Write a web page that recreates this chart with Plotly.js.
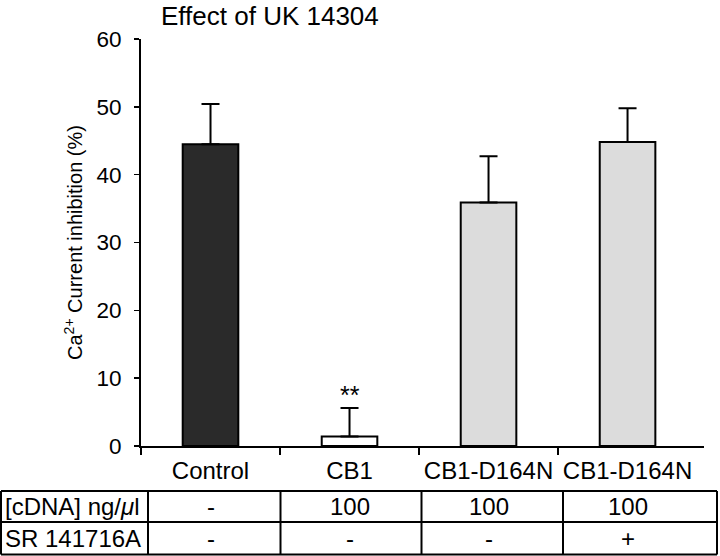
<!DOCTYPE html>
<html>
<head>
<meta charset="utf-8">
<script src="https://cdn.plot.ly/plotly-3.0.1.min.js"></script>
<style>html,body{margin:0;padding:0;background:#fff;}#chart{width:720px;height:556px;}</style>
</head>
<body>
<div id="chart"></div>
<script>
// ---- data ----
const categories = ["Control", "CB1", "CB1-D164N", "CB1-D164N"];
const inhibition = [44.5, 1.4, 35.9, 44.8];
const errorUp = [5.9, 4.2, 6.8, 5.0];
const barColors = ["#2a2a2a", "#ffffff", "#dcdcdc", "#dcdcdc"];
const significance = ["", "**", "", ""];
const yTicks = [0, 10, 20, 30, 40, 50, 60];
const rowLabels = ["[cDNA] ng/<i>μ</i>l", "SR 141716A"];
const cdnaRow = ["-", "100", "100", "100"];
const srRow = ["-", "-", "-", "+"];
const titleText = "Effect of UK 14304";
const yTitle = "Ca<sup>2+</sup> Current inhibition (%)";

const FONT = "Liberation Sans, Arial, Helvetica, sans-serif";
const idx = categories.map((_, i) => i);

const trace = {
  type: "bar",
  x: idx,
  y: inhibition,
  width: 0.4,
  marker: { color: barColors, line: { color: "#000", width: 2 } },
  error_y: { type: "data", symmetric: false, array: errorUp, arrayminus: errorUp.map(() => 0),
             color: "#000", thickness: 2, width: 9 },
  hoverinfo: "none",
  showlegend: false
};

// table geometry (paper coords)
const W = 720, H = 556, L = 141, R = 16, T = 39, B = 110;
const pw = W - L - R, ph = H - T - B;
const px = p => (p - L) / pw;
const py = p => (H - B - p) / ph;

const tableTop = py(491), tableMid = py(522), tableBot = py(554.5);
const tableLeft = px(1), tableRight = px(717);
const colDiv = [px(148), px(280.5), px(421.5), px(563)];
const lineStyle = { color: "#000", width: 2 };

const shapes = [];
[tableTop, tableMid, tableBot].forEach(y => shapes.push({ type: "line", xref: "paper", yref: "paper", x0: tableLeft, x1: tableRight, y0: y, y1: y, line: lineStyle }));
[tableLeft, ...colDiv, tableRight].forEach(x => shapes.push({ type: "line", xref: "paper", yref: "paper", x0: x, x1: x, y0: tableTop, y1: tableBot, line: lineStyle }));

const rowY = [py(506.5), py(538.5)];
const annotations = [];
rowLabels.forEach((t, r) => annotations.push({ xref: "paper", yref: "paper", x: px(3), y: rowY[r], xanchor: "left", yanchor: "middle", text: t, showarrow: false, font: { family: FONT, size: 24, color: "#000" } }));
[cdnaRow, srRow].forEach((row, r) => row.forEach((t, i) => annotations.push({ xref: "x", yref: "paper", x: i, y: rowY[r], xanchor: "center", yanchor: "middle", text: t, showarrow: false, font: { family: FONT, size: 24, color: "#000" } })));
significance.forEach((s, i) => { if (s) annotations.push({ xref: "x", yref: "y", x: i, y: inhibition[i] + errorUp[i], yanchor: "bottom", yshift: -3, text: s, showarrow: false, font: { family: FONT, size: 25, color: "#000" } }); });

const layout = {
  width: W, height: H,
  margin: { l: L, r: R, t: T, b: B, pad: 0 },
  paper_bgcolor: "#fff", plot_bgcolor: "#fff",
  font: { family: FONT, color: "#000" },
  title: { text: titleText, x: px(161), xanchor: "left", xref: "paper", y: 1 - 16 / H, yanchor: "middle", yref: "container", font: { family: FONT, size: 26, color: "#000" } },
  xaxis: {
    range: [-0.5, 3.55], tickmode: "array", tickvals: idx, ticktext: categories,
    ticks: "", showgrid: false, zeroline: false, showline: true, linecolor: "#000", linewidth: 2,
    tickfont: { family: FONT, size: 24, color: "#000" }, ticklabelstandoff: 2,
    minor: { tickmode: "array", tickvals: [-0.5, 0.5, 1.5, 2.5], ticks: "outside", ticklen: 7, tickwidth: 1.5, tickcolor: "#000", showgrid: false },
    fixedrange: true
  },
  yaxis: {
    range: [0, 60], tickmode: "array", tickvals: yTicks,
    ticks: "outside", ticklen: 5, tickwidth: 1.5, tickcolor: "#000",
    showgrid: false, zeroline: false, showline: true, linecolor: "#000", linewidth: 2,
    tickfont: { family: FONT, size: 22.5, color: "#000" }, ticklabelstandoff: 8,
    title: { text: yTitle, font: { family: FONT, size: 20, color: "#000" }, standoff: 8 },
    fixedrange: true
  },
  shapes, annotations,
  bargap: 0.6
};

Plotly.newPlot("chart", [trace], layout, { displayModeBar: false, staticPlot: true });
</script>
</body>
</html>
